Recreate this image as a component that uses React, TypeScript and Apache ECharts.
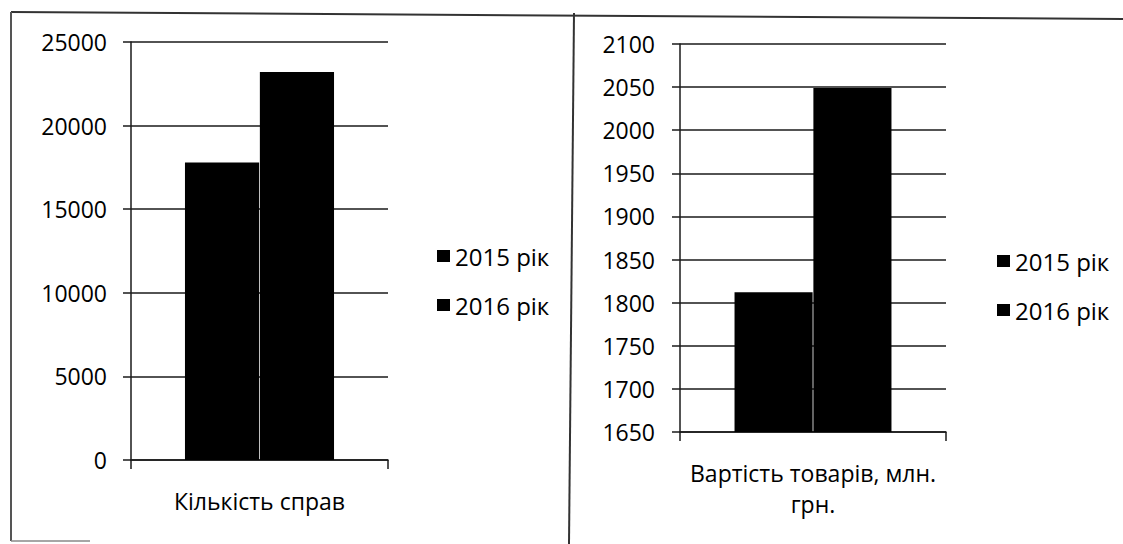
import React, { useEffect, useRef } from "react";
import * as echarts from "echarts";

const seriesNames = ["2015 рік", "2016 рік"];
const leftCategories = ["Кількість справ"];
const leftValues2015 = [17800];
const leftValues2016 = [23200];
const rightCategories = ["Вартість товарів, млн.\nгрн."];
const rightValues2015 = [1812];
const rightValues2016 = [2049];

const FONT = "'Open Sans', 'Noto Sans', sans-serif";
const LINE = "#1a1a1a";

export default function App() {
  const ref = useRef<HTMLDivElement>(null);
  useEffect(() => {
    if (!ref.current) return;
    const chart = echarts.init(ref.current, null, { renderer: "svg" });
    const valueAxisCommon = {
      type: "value" as const,
      axisLine: { show: true, lineStyle: { color: LINE, width: 1.5 } },
      axisTick: { show: true, length: 8, lineStyle: { color: LINE, width: 1.5 } },
      splitLine: { show: true, lineStyle: { color: LINE, width: 1.5 } },
    };
    const catAxisCommon = {
      type: "category" as const,
      axisLine: { show: true, lineStyle: { color: LINE, width: 1.5 } },
      axisTick: { show: true, length: 9, lineStyle: { color: LINE, width: 1.5 } },
      axisLabel: { color: "#000", fontFamily: FONT, fontSize: 23, margin: 25, lineHeight: 31 },
    };
    const legendCommon = {
      data: seriesNames,
      orient: "vertical" as const,
      itemWidth: 13,
      itemHeight: 12,
      itemGap: 25,
      icon: "rect",
      textStyle: { color: "#000", fontFamily: FONT, fontSize: 24, lineHeight: 24 },
      selectedMode: false,
    };
    const barStyle = { color: "#000" };
    const plain = (v: number) => String(v);
    chart.setOption({
      animation: false,
      backgroundColor: "#fff",
      grid: [
        { left: 131, top: 42, width: 257, height: 418 },
        { left: 680, top: 44, width: 266, height: 388 },
      ],
      xAxis: [
        { ...catAxisCommon, gridIndex: 0, data: leftCategories },
        { ...catAxisCommon, gridIndex: 1, data: rightCategories },
      ],
      yAxis: [
        {
          ...valueAxisCommon, gridIndex: 0, min: 0, max: 25000, interval: 5000,
          axisLabel: { color: "#000", fontFamily: FONT, fontSize: 23, margin: 24, formatter: plain },
        },
        {
          ...valueAxisCommon, gridIndex: 1, min: 1650, max: 2100, interval: 50,
          axisLabel: { color: "#000", fontFamily: FONT, fontSize: 23, margin: 25, formatter: plain },
        },
      ],
      legend: [
        { ...legendCommon, left: 432, top: 239 },
        { ...legendCommon, left: 992, top: 244 },
      ],
      series: [
        { name: seriesNames[0], type: "bar", xAxisIndex: 0, yAxisIndex: 0, data: leftValues2015, itemStyle: barStyle, barGap: "1%", barCategoryGap: "42%" },
        { name: seriesNames[1], type: "bar", xAxisIndex: 0, yAxisIndex: 0, data: leftValues2016, itemStyle: barStyle, barGap: "1%", barCategoryGap: "42%" },
        { name: seriesNames[0], type: "bar", xAxisIndex: 1, yAxisIndex: 1, data: rightValues2015, itemStyle: barStyle, barGap: "1%", barCategoryGap: "41%" },
        { name: seriesNames[1], type: "bar", xAxisIndex: 1, yAxisIndex: 1, data: rightValues2016, itemStyle: barStyle, barGap: "1%", barCategoryGap: "41%" },
      ],
      graphic: [
        { type: "line", shape: { x1: 11, y1: 12, x2: 1123, y2: 19 }, style: { stroke: "#333", lineWidth: 2 } },
        { type: "line", shape: { x1: 11, y1: 12, x2: 11, y2: 541 }, style: { stroke: "#555", lineWidth: 2 } },
        { type: "line", shape: { x1: 11, y1: 541, x2: 90, y2: 541 }, style: { stroke: "#888", lineWidth: 1.5 } },
        { type: "line", shape: { x1: 574, y1: 13, x2: 569, y2: 544 }, style: { stroke: "#333", lineWidth: 2 } },
      ],
    });
    return () => chart.dispose();
  }, []);
  return (
    <div
      ref={ref}
      style={{ position: "fixed", left: 0, top: 0, width: 1123, height: 544 }}
    />
  );
}
